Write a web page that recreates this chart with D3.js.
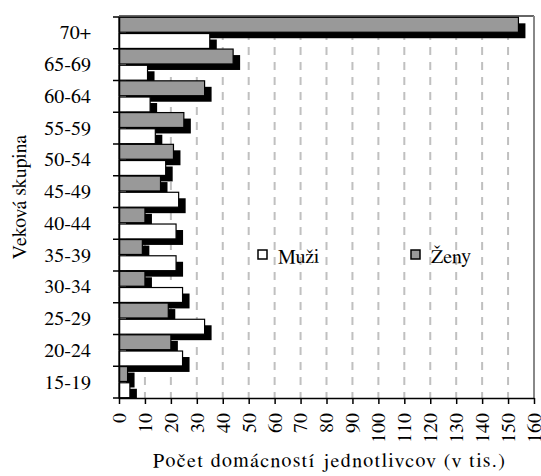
<!DOCTYPE html>
<html>
<head>
<meta charset="utf-8">
<script src="https://d3js.org/d3.v7.min.js"></script>
</head>
<body style="margin:0">
<svg></svg>
<script>
const width = 541;
const height = 476;
const serif = 'FreeSerif';

// data (thousands)
const categories = ["70+", "65-69", "60-64", "55-59", "50-54", "45-49", "40-44", "35-39", "30-34", "25-29", "20-24", "15-19"];
const zeny = [154, 44, 33, 25, 21, 16, 10, 9, 10, 19, 20, 3.3];
const muzi = [35, 11, 12, 14, 18, 23, 22, 22, 24.5, 33, 24.5, 4.2];
const xTicks = d3.range(0, 161, 10);
const seriesNames = ["Ženy", "Muži"];
const seriesFill = { "Ženy": "#999999", "Muži": "#ffffff" };

const margin = { top: 17, right: 7, bottom: 78, left: 119 };
const svg = d3.select('svg').attr('width', width).attr('height', height);

const x = d3.scaleLinear().domain([0, 160]).range([margin.left, width - margin.right]);
const y = d3.scaleBand().domain(categories).range([margin.top, height - margin.bottom]).padding(0);
const ySub = d3.scaleBand().domain(seriesNames).range([0, y.bandwidth()]).paddingInner(0.08).paddingOuter(0.02);

const rows = categories.map((c, i) => ({ cat: c, "Ženy": zeny[i], "Muži": muzi[i] }));
const bars = [];
rows.forEach(r => seriesNames.forEach(s => bars.push({ cat: r.cat, s: s, v: r[s] })));

// dashed grid
svg.append('g')
  .selectAll('line')
  .data(xTicks.slice(1))
  .enter().append('line')
  .attr('x1', d => x(d)).attr('x2', d => x(d))
  .attr('y1', margin.top).attr('y2', height - margin.bottom)
  .style('stroke', '#c0c0c0')
  .style('stroke-width', 2)
  .style('stroke-dasharray', '8,7');

// frame top/right
svg.append('line')
  .attr('x1', x(0)).attr('x2', x(160))
  .attr('y1', margin.top - 1).attr('y2', margin.top - 1)
  .style('stroke', '#333').style('stroke-width', 1.5);
svg.append('line')
  .attr('x1', x(160)).attr('x2', x(160))
  .attr('y1', margin.top - 1).attr('y2', height - margin.bottom)
  .style('stroke', '#888').style('stroke-width', 2);

const shadowDx = 7, shadowDy = 6;
const barG = svg.append('g');

// shadows first
barG.selectAll('.shadow')
  .data(bars)
  .enter().append('rect')
  .attr('class', 'shadow')
  .attr('x', x(0) + shadowDx)
  .attr('y', d => y(d.cat) + ySub(d.s) + shadowDy)
  .attr('width', d => x(d.v) - x(0))
  .attr('height', ySub.bandwidth())
  .style('fill', '#000');

barG.selectAll('.bar')
  .data(bars)
  .enter().append('rect')
  .attr('class', 'bar')
  .attr('x', x(0))
  .attr('y', d => y(d.cat) + ySub(d.s))
  .attr('width', d => x(d.v) - x(0))
  .attr('height', ySub.bandwidth())
  .style('fill', d => seriesFill[d.s])
  .style('stroke', '#000')
  .style('stroke-width', 1.2);

// white patch to hide shadows spilling below the axis
svg.append('rect')
  .attr('x', 0).attr('y', height - margin.bottom + 1)
  .attr('width', width).attr('height', margin.bottom)
  .style('fill', '#fff');

// x axis
const xAxis = svg.append('g')
  .attr('transform', `translate(0,${height - margin.bottom})`)
  .call(d3.axisBottom(x).tickValues(xTicks).tickSize(6).tickSizeOuter(0).tickPadding(0));
xAxis.attr('font-family', null).attr('font-size', null);
xAxis.select('.domain').style('stroke', '#000').style('stroke-width', 1.5);
xAxis.selectAll('.tick line').style('stroke', '#000').style('stroke-width', 1.5);
xAxis.selectAll('.tick text')
  .style('font-family', serif)
  .style('font-size', '20px')
  .style('fill', '#000')
  .attr('text-anchor', 'end')
  .attr('dy', '0.32em')
  .attr('transform', 'translate(0,15) rotate(-90)')
  .attr('y', 0).attr('x', 0);

// y axis
const yAxis = svg.append('g')
  .attr('transform', `translate(${x(0)},0)`)
  .call(d3.axisLeft(y).tickSize(0).tickPadding(28));
yAxis.attr('font-family', null).attr('font-size', null);
yAxis.select('.domain').style('stroke', '#000').style('stroke-width', 1.5);
yAxis.selectAll('.tick text')
  .style('font-family', serif)
  .style('font-size', '20px')
  .style('fill', '#000');
// category separator ticks
svg.append('g')
  .selectAll('line')
  .data(d3.range(categories.length + 1))
  .enter().append('line')
  .attr('x1', x(0) - 6).attr('x2', x(0))
  .attr('y1', i => margin.top + i * y.step())
  .attr('y2', i => margin.top + i * y.step())
  .style('stroke', '#000').style('stroke-width', 1.5);

// axis titles
svg.append('text')
  .attr('x', 153)
  .attr('y', 467)
  .attr('textLength', 352)
  .attr('lengthAdjust', 'spacing')
  .style('font-family', serif)
  .style('font-size', '20px')
  .text('Počet domácností jednotlivcov (v tis.)');

svg.append('text')
  .attr('transform', 'translate(26,197) rotate(-90)')
  .attr('text-anchor', 'middle')
  .style('font-family', serif)
  .style('font-size', '20px')
  .text('Veková skupina');

// legend
const legendItems = [
  { name: "Muži", bx: 258, tx: 278 },
  { name: "Ženy", bx: 411, tx: 431 }
];
const legend = svg.append('g').selectAll('g').data(legendItems).enter().append('g');
legend.append('rect')
  .attr('x', d => d.bx).attr('y', 250)
  .attr('width', 9).attr('height', 9)
  .style('fill', d => seriesFill[d.name])
  .style('stroke', '#000').style('stroke-width', 1.5);
legend.append('text')
  .attr('x', d => d.tx).attr('y', 263)
  .style('font-family', serif)
  .style('font-size', '20px')
  .text(d => d.name);
</script>
</body>
</html>
